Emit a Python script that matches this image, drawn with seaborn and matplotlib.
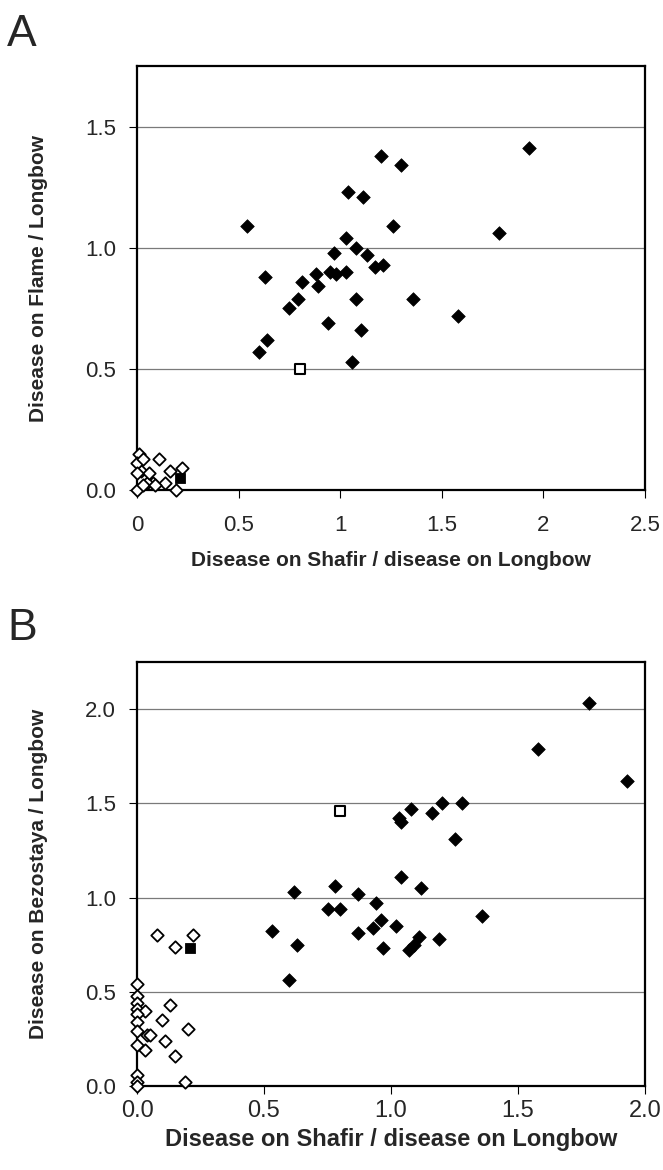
import matplotlib
matplotlib.use("Agg")
import matplotlib.pyplot as plt
import seaborn as sns

# panel A: Flame / Longbow vs Shafir / Longbow
a_filled_x = [0.54, 1.20, 1.30, 1.93, 1.04, 1.11, 1.26, 1.78, 1.03, 1.08, 0.97, 1.13, 1.17, 1.21, 0.63, 0.88,
              0.95, 0.98, 1.03, 0.81, 0.89, 0.79, 1.08, 1.36, 0.75, 1.58, 0.94, 1.10, 0.64, 0.60, 1.06]
a_filled_y = [1.09, 1.38, 1.34, 1.41, 1.23, 1.21, 1.09, 1.06, 1.04, 1.00, 0.98, 0.97, 0.92, 0.93, 0.88, 0.89,
              0.90, 0.89, 0.90, 0.86, 0.84, 0.79, 0.79, 0.79, 0.75, 0.72, 0.69, 0.66, 0.62, 0.57, 0.53]
a_open_x = [0.01, 0.11, 0.22, 0.16, 0.19, 0.00, 0.08, 0.05, 0.02, 0.00, 0.03, 0.06, 0.14, 0.00, 0.03, 0.09]
a_open_y = [0.15, 0.13, 0.09, 0.08, 0.00, 0.00, 0.03, 0.03, 0.08, 0.11, 0.13, 0.07, 0.03, 0.07, 0.02, 0.02]
a_open_sq = ([0.80], [0.50])
a_filled_sq = ([0.21], [0.05])

# panel B: Bezostaya / Longbow vs Shafir / Longbow
b_filled_x = [1.58, 1.08, 1.03, 1.04, 1.20, 1.28, 1.16, 1.25, 1.04, 1.12, 0.62, 0.78, 0.87, 0.94, 0.75, 0.80,
              1.36, 0.96, 0.93, 1.02, 0.53, 0.87, 1.11, 1.19, 1.09, 1.07, 0.63, 0.97, 0.60, 1.78, 1.93]
b_filled_y = [1.79, 1.47, 1.42, 1.40, 1.50, 1.50, 1.45, 1.31, 1.11, 1.05, 1.03, 1.06, 1.02, 0.97, 0.94, 0.94,
              0.90, 0.88, 0.84, 0.85, 0.82, 0.81, 0.79, 0.78, 0.75, 0.72, 0.75, 0.73, 0.56, 2.03, 1.62]
b_open_x = [0.00, 0.00, 0.00, 0.00, 0.03, 0.00, 0.00, 0.13, 0.10, 0.20, 0.00, 0.04, 0.05, 0.11, 0.00, 0.03,
            0.15, 0.00, 0.19, 0.00, 0.00, 0.08, 0.15, 0.22]
b_open_y = [0.54, 0.48, 0.44, 0.41, 0.40, 0.38, 0.34, 0.43, 0.35, 0.30, 0.29, 0.27, 0.27, 0.24, 0.22, 0.19,
            0.16, 0.06, 0.02, 0.02, 0.00, 0.80, 0.74, 0.80]
b_open_sq = ([0.80], [1.46])
b_filled_sq = ([0.21], [0.73])

a_xticks = [0, 0.5, 1, 1.5, 2, 2.5]
a_xticklabels = ["0", "0.5", "1", "1.5", "2", "2.5"]
a_yticks = [0.0, 0.5, 1.0, 1.5]
b_xticks = [0.0, 0.5, 1.0, 1.5, 2.0]
b_yticks = [0.0, 0.5, 1.0, 1.5, 2.0]

sns.set_style("white")
plt.rcParams['font.family'] = ['Liberation Sans', 'DejaVu Sans']

fig = plt.figure(figsize=(6.63, 11.7), dpi=100)
ax_a = fig.add_axes([137 / 663, 1 - 490 / 1170, 508 / 663, 424 / 1170])
ax_b = fig.add_axes([137 / 663, 1 - 1086 / 1170, 508 / 663, 424 / 1170])


def draw_points(ax, filled_x, filled_y, open_x, open_y, open_sq, filled_sq):
    sns.scatterplot(x=filled_x, y=filled_y, marker='D', s=48, color='black', edgecolor='black',
                    linewidth=0.5, ax=ax, clip_on=False, zorder=3)
    sns.scatterplot(x=open_x, y=open_y, marker='D', s=40, color='white', edgecolor='black',
                    linewidth=1.3, ax=ax, clip_on=False, zorder=3)
    sns.scatterplot(x=open_sq[0], y=open_sq[1], marker='s', s=55, color='white', edgecolor='black',
                    linewidth=1.5, ax=ax, clip_on=False, zorder=4)
    sns.scatterplot(x=filled_sq[0], y=filled_sq[1], marker='s', s=55, color='black', edgecolor='black',
                    ax=ax, clip_on=False, zorder=4)


def style_axes(ax, xticks, xticklabels, yticks, xmax, ymax, ylabel, xfs, yfs, xpad):
    ax.set_xlim(0, xmax)
    ax.set_ylim(0, ymax)
    ax.set_xticks(xticks)
    ax.set_xticklabels(xticklabels, fontsize=xfs)
    ax.set_yticks(yticks)
    ax.set_yticklabels([f"{t:.1f}" for t in yticks], fontsize=yfs)
    for t in yticks[1:]:
        ax.axhline(t, color='#7a7a7a', lw=0.9, zorder=1)
    for s in ax.spines.values():
        s.set_color('black')
        s.set_linewidth(1.6)
    ax.tick_params(axis='both', direction='out', length=6, width=0.8, color='black', left=True, bottom=True)
    ax.tick_params(axis='y', pad=9)
    ax.tick_params(axis='x', pad=xpad)
    ax.set_ylabel(ylabel, fontsize=15, fontweight='bold')
    ax.yaxis.set_label_coords(-0.175, 0.5)


draw_points(ax_a, a_filled_x, a_filled_y, a_open_x, a_open_y, a_open_sq, a_filled_sq)
style_axes(ax_a, a_xticks, a_xticklabels, a_yticks, 2.5, 1.75, "Disease on Flame / Longbow", 16, 16, 12)
ax_a.set_xlabel("Disease on Shafir / disease on Longbow", fontsize=15, fontweight='bold')
ax_a.xaxis.set_label_coords(0.5, -0.145)

draw_points(ax_b, b_filled_x, b_filled_y, b_open_x, b_open_y, b_open_sq, b_filled_sq)
style_axes(ax_b, b_xticks, [f"{t:.1f}" for t in b_xticks], b_yticks, 2.0, 2.25,
           "Disease on Bezostaya / Longbow", 17, 16, 4)
ax_b.set_xlabel("Disease on Shafir / disease on Longbow", fontsize=17, fontweight='bold')
ax_b.xaxis.set_label_coords(0.5, -0.1)

fig.text(7 / 663, 1 - 46 / 1170, "A", fontsize=32)
fig.text(7 / 663, 1 - 640 / 1170, "B", fontsize=32)

fig.savefig("out.png", dpi=100)
